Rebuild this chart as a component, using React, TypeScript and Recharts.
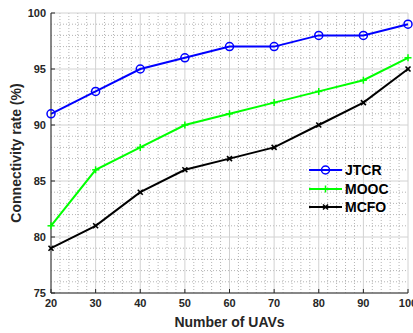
import { CartesianGrid, Legend, Line, LineChart, XAxis, YAxis } from "recharts";

const uavCounts = [20, 30, 40, 50, 60, 70, 80, 90, 100];
const jtcr = [91, 93, 95, 96, 97, 97, 98, 98, 99];
const mooc = [81, 86, 88, 90, 91, 92, 93, 94, 96];
const mcfo = [79, 81, 84, 86, 87, 88, 90, 92, 95];

const xTicks = [20, 30, 40, 50, 60, 70, 80, 90, 100];
const yTicks = [75, 80, 85, 90, 95, 100];
const xMinor = [
  22, 24, 26, 28, 32, 34, 36, 38, 42, 44, 46, 48, 52, 54, 56, 58, 62, 64, 66, 68, 72, 74, 76, 78, 82, 84, 86, 88,
  92, 94, 96, 98,
];
const yMinor = [76, 77, 78, 79, 81, 82, 83, 84, 86, 87, 88, 89, 91, 92, 93, 94, 96, 97, 98, 99];

type MarkerKind = "circle" | "plus" | "cross";

interface Series {
  key: string;
  name: string;
  color: string;
  marker: MarkerKind;
}

const series: Series[] = [
  { key: "jtcr", name: "JTCR", color: "#0000ff", marker: "circle" },
  { key: "mooc", name: "MOOC", color: "#00ff00", marker: "plus" },
  { key: "mcfo", name: "MCFO", color: "#000000", marker: "cross" },
];

const data = uavCounts.map((n, i) => ({ uav: n, jtcr: jtcr[i], mooc: mooc[i], mcfo: mcfo[i] }));

const FONT = "'Liberation Sans', Arial, sans-serif";
const AXIS = "#262626";

function Marker({ kind, cx, cy, color }: { kind: MarkerKind; cx: number; cy: number; color: string }) {
  if (kind === "circle") {
    return <circle cx={cx} cy={cy} r={4} fill="none" stroke={color} strokeWidth={1.5} />;
  }
  if (kind === "plus") {
    return (
      <g stroke={color} strokeWidth={1.5}>
        <line x1={cx - 3.5} y1={cy} x2={cx + 3.5} y2={cy} />
        <line x1={cx} y1={cy - 3.5} x2={cx} y2={cy + 3.5} />
      </g>
    );
  }
  return (
    <g stroke={color} strokeWidth={1.6}>
      <line x1={cx - 2.5} y1={cy - 2.5} x2={cx + 2.5} y2={cy + 2.5} />
      <line x1={cx - 2.5} y1={cy + 2.5} x2={cx + 2.5} y2={cy - 2.5} />
      <rect x={cx - 1.2} y={cy - 1.2} width={2.4} height={2.4} fill={color} stroke="none" />
    </g>
  );
}

function makeDot(s: Series) {
  return (props: any) => {
    const { cx, cy, index } = props;
    if (cx == null || cy == null) return <g key={index} />;
    return <Marker key={`${s.key}-${index}`} kind={s.marker} cx={cx} cy={cy} color={s.color} />;
  };
}

function LegendBox() {
  return (
    <div style={{ fontFamily: FONT, fontWeight: "bold", fontSize: 14, color: "#000" }}>
      {series.map((s) => (
        <div key={s.key} style={{ display: "flex", alignItems: "center", height: 18.5 }}>
          <svg width={36} height={14} style={{ display: "block" }}>
            <line x1={1} y1={7} x2={34} y2={7} stroke={s.color} strokeWidth={2} />
            <Marker kind={s.marker} cx={17.5} cy={7} color={s.color} />
          </svg>
          <span style={{ marginLeft: 1, lineHeight: "14px" }}>{s.name}</span>
        </div>
      ))}
    </div>
  );
}

export default function App() {
  const tickStyle = { fontFamily: FONT, fontWeight: "bold", fontSize: 11, fill: AXIS };
  return (
    <div style={{ position: "absolute", left: 0, top: 0, width: 413, height: 333, background: "#fff" }}>
      <LineChart width={413} height={333} data={data} margin={{ top: 13, right: 5, bottom: 0, left: 0 }}>
        <CartesianGrid
          horizontalValues={yMinor}
          verticalValues={xMinor}
          stroke="#b4b4b4"
          strokeDasharray="1 2"
        />
        <CartesianGrid horizontalValues={yTicks} verticalValues={xTicks} stroke="#d2d2d2" />
        <XAxis
          dataKey="uav"
          type="number"
          domain={[20, 100]}
          ticks={xTicks}
          interval={0}
          height={40}
          tickSize={-4}
          tickMargin={10}
          stroke={AXIS}
          tick={tickStyle}
          label={{
            value: "Number of UAVs",
            position: "insideBottom",
            offset: 6,
            style: { fontFamily: FONT, fontWeight: "bold", fontSize: 14, fill: AXIS },
          }}
        />
        <XAxis
          xAxisId="top"
          orientation="top"
          type="number"
          domain={[20, 100]}
          ticks={xTicks}
          height={0}
          tickSize={-4}
          tick={false}
          stroke={AXIS}
        />
        <YAxis
          type="number"
          domain={[75, 100]}
          ticks={yTicks}
          interval={0}
          width={51}
          tickSize={-4}
          tickMargin={9}
          stroke={AXIS}
          tick={tickStyle}
          label={{
            value: "Connectivity rate (%)",
            angle: -90,
            position: "insideLeft",
            offset: 16,
            style: { fontFamily: FONT, fontWeight: "bold", fontSize: 14, fill: AXIS, textAnchor: "middle" },
          }}
        />
        <YAxis
          yAxisId="right"
          orientation="right"
          type="number"
          domain={[75, 100]}
          ticks={yTicks}
          width={0}
          tickSize={-4}
          tick={false}
          stroke={AXIS}
        />
        <Legend
          layout="vertical"
          align="center"
          verticalAlign="middle"
          content={() => <LegendBox />}
          wrapperStyle={{ position: "absolute", left: 308, top: 161, width: 90, height: 60 }}
        />
        {series.map((s) => (
          <Line
            key={s.key}
            dataKey={s.key}
            name={s.name}
            stroke={s.color}
            strokeWidth={2}
            dot={makeDot(s)}
            activeDot={false}
            isAnimationActive={false}
          />
        ))}
      </LineChart>
    </div>
  );
}
